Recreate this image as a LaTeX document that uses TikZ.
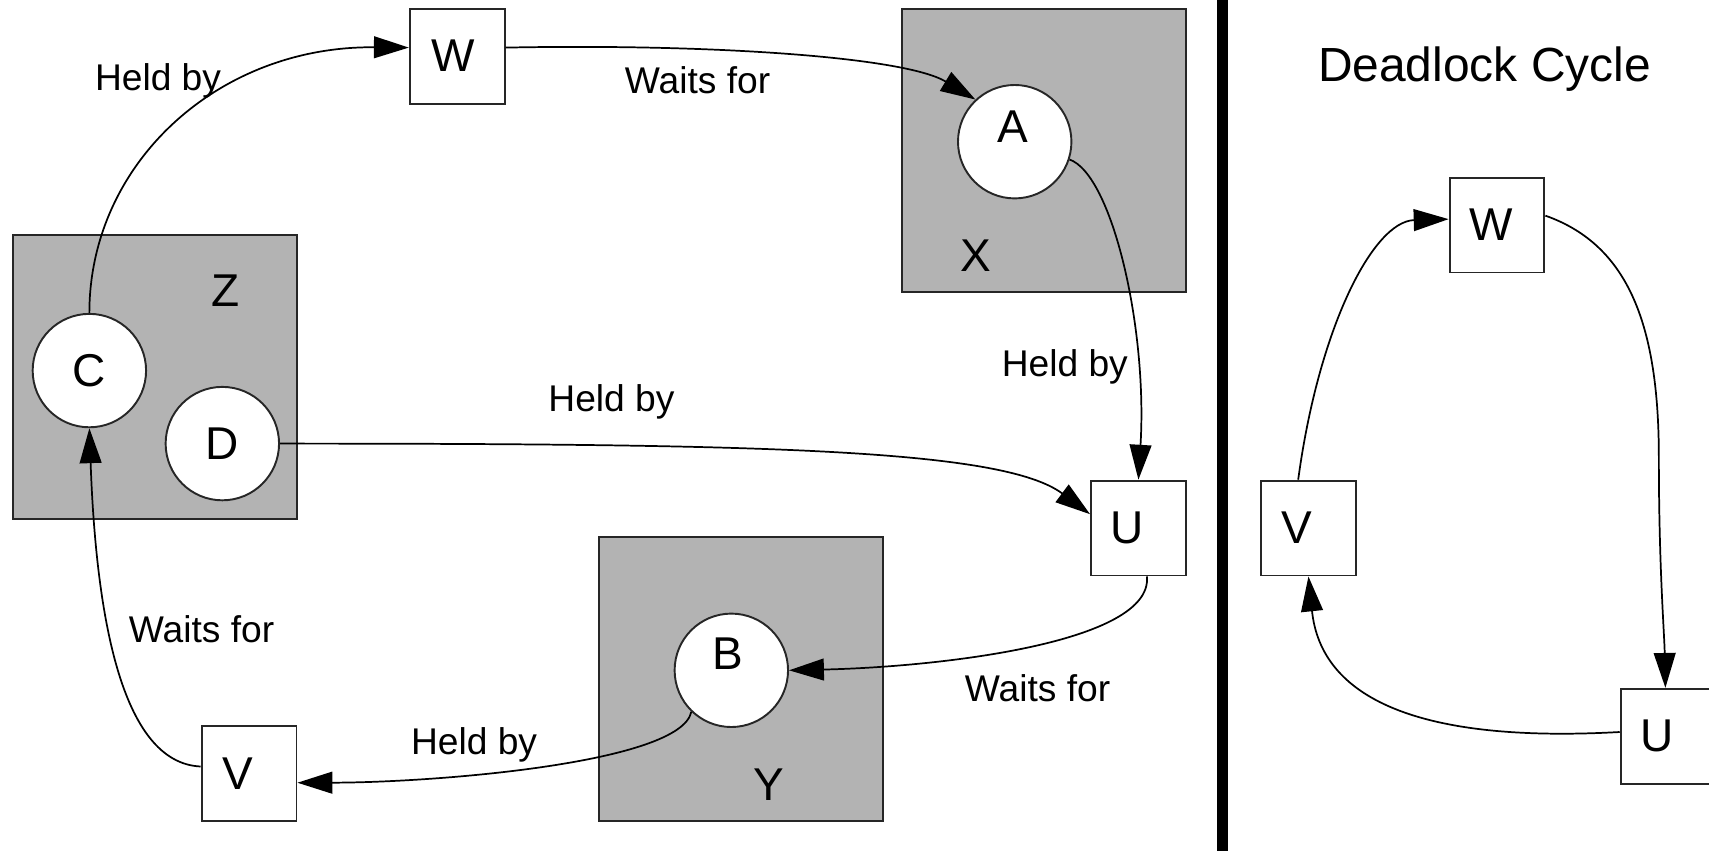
\documentclass[tikz,border=0pt]{standalone}
\usepackage{fontspec}
\setmainfont{Liberation Sans}
\usetikzlibrary{arrows.meta}
\definecolor{grpfill}{RGB}{179,179,179}
\begin{document}
\begin{tikzpicture}[x=0.01cm,y=-0.01cm,
 box/.style={draw=black!85, fill=white, line width=0.5pt, minimum size=0.87cm, inner sep=0pt, font=\fontsize{12}{14}\selectfont},
 res/.style={draw=black!85, fill=white, circle, line width=0.5pt, minimum size=1.04cm, inner sep=0pt, font=\fontsize{12}{14}\selectfont},
 grp/.style={draw=black!85, fill=grpfill, line width=0.5pt, minimum size=2.6cm, inner sep=0pt},
 letter/.style={font=\fontsize{12}{14}\selectfont, inner sep=0pt},
 lbl/.style={font=\fontsize{9.7}{11}\selectfont, inner sep=0pt},
 conn/.style={line width=0.45pt, -{Triangle[length=0.32cm,width=0.2cm]}},
]
\useasboundingbox (0,0) rectangle (1568,781);
% groups
\node[grp] (X) at (958,138) {};
\node[grp] (Z) at (142,346) {};
\node[grp] (Y) at (680,623) {};
\node[letter] (Xl) at (895,235) {X};
\node[letter] (Zl) at (207,267) {Z};
\node[letter] (Yl) at (705,720) {Y};
% resources
\node[res] (A) at (931,130) {};
\node[letter] (Al) at (929,116) {A};
\node[res] (B) at (671,615) {};
\node[letter] (Bl) at (668,600) {B};
\node[res] (C) at (82,340) {C};
\node[res] (D) at (204,407) {D};
% processes
\node[box] (W) at (419.5,51.5) {W\hspace*{0.08cm}};
\node[box] (U) at (1044.5,484.5) {U\hspace*{0.2cm}};
\node[box] (V) at (228.5,709.5) {V\hspace*{0.2cm}};
% connectors
\draw[conn] (C.north) .. controls (82,150) and (200,42) .. (W.170);
\draw[conn] (W.10) .. controls (650,40) and (830,52) .. (A.133);
\draw[conn] (A.-18) .. controls (1020,160) and (1053,300) .. (U.north);
\draw[conn] (D.east) .. controls (700,407) and (920,412) .. (U.164);
\draw[conn] (U.-80) .. controls (1058,590) and (860,612) .. (B.east);
\draw[conn] (B.226) .. controls (625,700) and (400,718) .. (V.-11);
\draw[conn] (V.172) .. controls (110,700) and (88,560) .. (C.south);
% labels
\node[lbl] (l1) at (145,74) {Held by};
\node[lbl] (l2) at (640,74) {Waits for};
\node[lbl] (l3) at (977,337) {Held by};
\node[lbl] (l4) at (561,369) {Held by};
\node[lbl] (l5) at (952,631) {Waits for};
\node[lbl] (l6) at (435,683) {Held by};
\node[lbl] (l7) at (185,577) {Waits for};
% divider
\fill (1117,0) rectangle (1127,781);
% right panel
\node[font=\fontsize{12.5}{15}\selectfont, inner sep=0pt] (title) at (1362,63) {Deadlock Cycle};
\node[box] (W2) at (1373.5,206.5) {W\hspace*{0.1cm}};
\node[box] (V2) at (1200.5,484.5) {V\hspace*{0.22cm}};
\node[box] (U2) at (1530.5,675.5) {U\hspace*{0.2cm}};
\draw[conn] (V2.north west) ++(35,0) coordinate (v2t) .. controls (1210,300) and (1260,203) .. (W2.173);
\draw[conn] (W2.11) .. controls (1495,225) and (1522,300) .. (1522,420) .. controls (1522,520) and (1527,580) .. (U2.north -| 1528,0);
\draw[conn] (U2.175) .. controls (1300,682) and (1212,640) .. (V2.south);
\end{tikzpicture}
\end{document}
